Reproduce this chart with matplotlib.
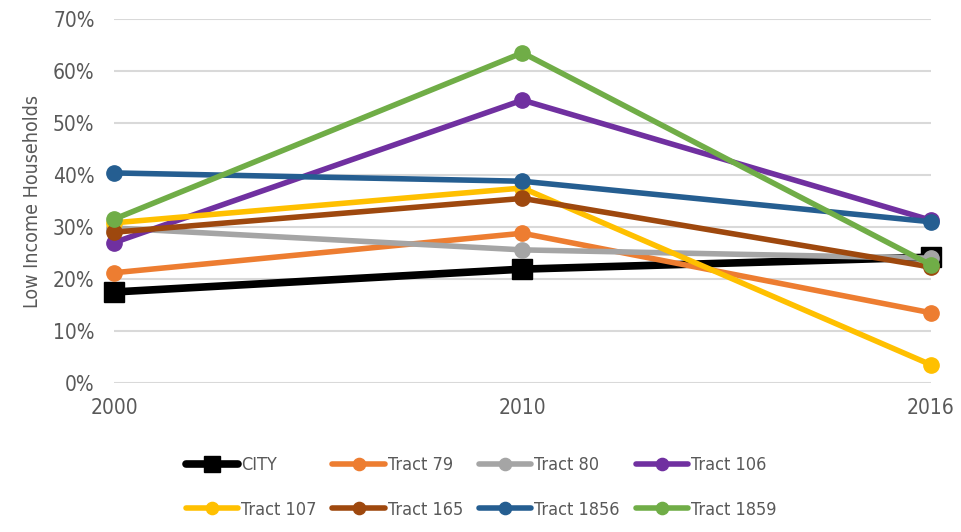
import matplotlib
matplotlib.use("Agg")
import matplotlib.pyplot as plt
from matplotlib.ticker import FuncFormatter, MultipleLocator

years = ["2000", "2010", "2016"]
series_names = ["CITY", "Tract 79", "Tract 80", "Tract 106", "Tract 107",
                "Tract 165", "Tract 1856", "Tract 1859"]
city = [17.5, 21.9, 24.2]
tract_79 = [21.2, 28.8, 13.5]
tract_80 = [29.8, 25.6, 24.0]
tract_106 = [27.0, 54.4, 31.3]
tract_107 = [30.8, 37.5, 3.5]
tract_165 = [29.0, 35.5, 22.3]
tract_1856 = [40.4, 38.8, 31.0]
tract_1859 = [31.5, 63.5, 22.7]
values = [city, tract_79, tract_80, tract_106, tract_107, tract_165, tract_1856, tract_1859]
colors = ["#000000", "#ED7D31", "#A5A5A5", "#7030A0", "#FFC000", "#9E480E", "#255E91", "#70AD47"]

plt.rcParams['font.family'] = ['DejaVu Sans']
plt.rcParams['font.stretch'] = 'condensed'
text_color = "#595959"

fig = plt.figure(figsize=(9.62, 5.32), dpi=100)
ax = fig.add_axes([114/962, 1-383/532, (931-114)/962, 364/532])

x = list(range(len(years)))
handles = []
for i, (name, vals, col) in enumerate(zip(series_names, values, colors)):
    if name == "CITY":
        h, = ax.plot(x, [v/100 for v in vals], color=col, lw=5.5, marker='s', ms=15,
                     label=name, zorder=3+i, clip_on=False, solid_capstyle='round')
    else:
        h, = ax.plot(x, [v/100 for v in vals], color=col, lw=4, marker='o', ms=11,
                     label=name, zorder=3+i, clip_on=False, solid_capstyle='round')
    handles.append(h)

ax.set_xlim(0, len(years)-1)
ax.set_ylim(0, 0.70)
ax.yaxis.set_major_locator(MultipleLocator(0.10))
ax.yaxis.set_major_formatter(FuncFormatter(lambda v, p: f"{v*100:.0f}%"))
ax.set_xticks(x)
ax.set_xticklabels(years)
ax.grid(axis='y', color="#D9D9D9", lw=1.5, zorder=0)
for s in ax.spines.values():
    s.set_visible(False)
ax.tick_params(length=0, colors=text_color, labelsize=15)
ax.tick_params(axis='y', pad=14)
ax.tick_params(axis='x', pad=11)
ax.set_ylabel("Low Income Households", color=text_color, fontsize=14, labelpad=8)

order = [0, 4, 1, 5, 2, 6, 3, 7]
leg = fig.legend([handles[i] for i in order], [series_names[i] for i in order],
                 ncol=4, loc='center', bbox_to_anchor=(0.5, 0.0836), frameon=False,
                 fontsize=13, handlelength=2.9, handletextpad=0.15, columnspacing=0.9,
                 labelspacing=1.45, markerscale=0.8)
for t in leg.get_texts():
    t.set_color(text_color)

fig.savefig("out.png", dpi=100)
